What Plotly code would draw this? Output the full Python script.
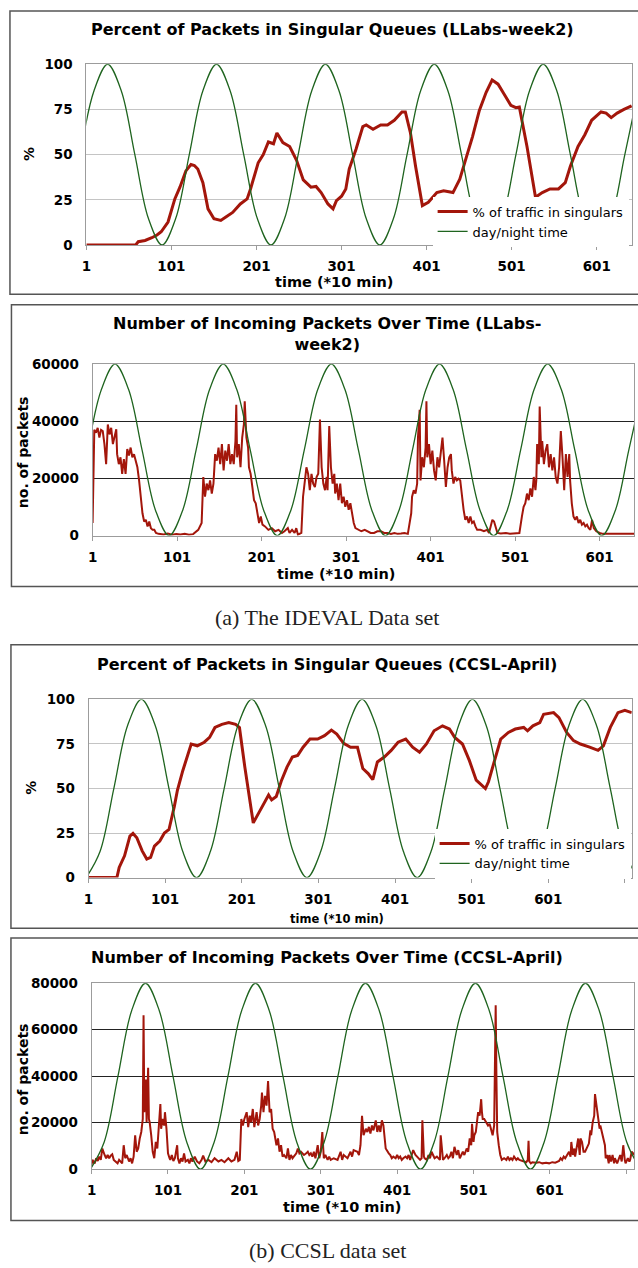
import plotly.graph_objects as go

# ---------------- data ----------------
# Panel 1: percent of packets in singular queues (LLabs-week2)
p1_x = [1, 59, 62, 70, 78, 84, 89, 97, 105, 111,
        118, 124, 128, 132, 138, 144, 151, 159, 165, 173,
        182, 190, 194, 203, 209, 215, 221, 225, 232, 240,
        248, 256, 265, 271, 277, 285, 291, 295, 301, 306,
        310, 318, 326, 330, 338, 347, 355, 363, 372, 376,
        382, 388, 396, 403, 413, 421, 432, 440, 448, 455,
        463, 471, 478, 485, 492, 500, 506, 510, 519, 529,
        537, 546, 556, 564, 570, 579, 587, 595, 606, 612,
        618, 625, 633, 642]
p1_y = [0, 0, 1.8, 2.5, 4, 5.5, 7.3, 12.7, 25.5, 32,
        41, 44.5, 44, 42, 34.5, 20, 14.5, 13.6, 15.5, 18,
        22.7, 25.5, 31, 45.5, 50, 57, 56, 62, 56.7, 54.5,
        47, 36, 32, 32.4, 29, 22.7, 20, 24.5, 27, 31,
        42, 53, 65.5, 66.4, 64, 66.4, 66.4, 69, 73.6, 73.6,
        62, 43.6, 21.8, 23.6, 29, 30, 29, 36.4, 49, 60,
        74.5, 84.5, 91.3, 89, 83.6, 77.3, 76, 76.4, 54.5, 26.4,
        29, 31, 31, 34.5, 43.6, 54.5, 61, 69, 73.6, 73,
        70.5, 73, 75, 77]
dn1_x = [-6, 10, 26, 42, 58, 74, 90, 106, 122, 138,
         154, 170, 186, 202, 218, 234, 250, 266, 282, 298,
         314, 330, 346, 362, 378, 394, 410, 426, 442, 458,
         474, 490, 506, 522, 538, 554, 570, 586, 602, 618,
         634, 650]
dn1_y = [50, 85.4, 100, 85.4, 50, 14.6, 0, 14.6, 50, 85.4,
         100, 85.4, 50, 14.6, 0, 14.6, 50, 85.4, 100, 85.4,
         50, 14.6, 0, 14.6, 50, 85.4, 100, 85.4, 50, 14.6,
         0, 14.6, 50, 85.4, 100, 85.4, 50, 14.6, 0, 14.6,
         50, 85.4]

# Panel 2: number of incoming packets (LLabs-week2)
p2_x = [1, 2, 3, 5, 7, 9, 11, 13, 15, 17,
        19, 21, 23, 25, 27, 29, 30, 32, 34, 36,
        38, 40, 42, 44, 46, 48, 50, 52, 54, 56,
        58, 60, 62, 64, 66, 68, 70, 72, 74, 76,
        79, 85, 90, 95, 100, 105, 110, 115, 120, 126,
        130, 132, 134, 136, 138, 140, 142, 144, 146, 148,
        150, 152, 154, 156, 158, 160, 162, 164, 166, 168,
        170, 171, 172, 174, 176, 178, 180, 181, 183, 185,
        186, 188, 190, 192, 194, 196, 198, 200, 202, 205,
        209, 213, 217, 221, 225, 228, 232, 234, 237, 240,
        242, 244, 248, 250, 252, 254, 256, 258, 260, 262,
        264, 266, 268, 270, 272, 274, 276, 278, 279, 281,
        283, 285, 287, 288, 290, 292, 294, 296, 298, 300,
        302, 304, 306, 308, 310, 312, 315, 319, 323, 327,
        330, 334, 338, 342, 346, 350, 354, 358, 362, 366,
        370, 374, 378, 379, 381, 383, 385, 386, 388, 389,
        391, 393, 395, 396, 397, 399, 401, 403, 405, 407,
        409, 411, 413, 415, 417, 419, 421, 423, 425, 426,
        428, 430, 432, 434, 436, 438, 440, 442, 444, 446,
        448, 450, 452, 454, 456, 460, 464, 468, 470, 472,
        474, 476, 478, 480, 484, 490, 495, 500, 506, 509,
        511, 513, 515, 517, 519, 521, 523, 525, 526, 527,
        529, 530, 532, 533, 535, 537, 539, 541, 543, 545,
        547, 549, 551, 553, 555, 557, 559, 561, 563, 565,
        566, 568, 570, 572, 574, 576, 578, 580, 582, 584,
        586, 588, 590, 592, 594, 597, 601, 605, 609, 613,
        617, 621, 625, 629, 633, 637, 642]
p2_y = [4400, 33000, 37000, 36000, 37700, 34300, 37000, 36600, 32000, 25000,
        38900, 35400, 37700, 32000, 34900, 37200, 28500, 25000, 27400, 21600,
        26800, 21600, 30300, 28000, 30800, 27400, 28500, 26200, 23900, 19300,
        12400, 7800, 4900, 5500, 3200, 4900, 2600, 2000, 2000, 900,
        600, 400, 700, 300, 500, 400, 600, 300, 500, 2000,
        4400, 20500, 13600, 18200, 15900, 19300, 14700, 18200, 28500, 26200,
        30800, 25000, 32000, 22800, 29700, 26200, 32000, 25000, 28500, 25000,
        33100, 45800, 27400, 32000, 23900, 34300, 38900, 47000, 34300, 30800,
        23900, 21600, 17000, 12400, 11300, 7800, 4400, 6700, 3800, 3200,
        2000, 2600, 1500, 2000, 900, 1500, 2600, 900, 2000, 900,
        2600, 300, 900, 13600, 18200, 23900, 21600, 15900, 21600, 18200,
        17000, 20500, 21600, 40600, 23900, 18200, 15900, 20500, 15900, 38300,
        23900, 18200, 21600, 14700, 18200, 12400, 18200, 11300, 13600, 10100,
        12400, 9000, 11300, 7800, 4400, 2600, 2000, 1500, 2000, 1500,
        900, 900, 1500, 1500, 900, 900, 600, 900, 600, 700,
        900, 600, 7800, 13600, 15900, 14700, 18200, 34300, 44000, 19300,
        27400, 23900, 30800, 47000, 27400, 32000, 25000, 29700, 22800, 19300,
        27400, 23900, 28500, 34300, 26200, 17000, 23900, 27400, 28500, 22800,
        18200, 20500, 19300, 19900, 19300, 13600, 9000, 5500, 6700, 4400,
        6700, 4400, 4900, 3200, 2000, 2000, 1500, 2000, 900, 3200,
        5500, 4900, 3200, 900, 700, 900, 600, 700, 900, 6700,
        10100, 11300, 14700, 12400, 16500, 13600, 20500, 15900, 19300, 32000,
        25000, 45200, 27400, 33100, 25000, 29700, 32000, 23900, 28500, 22800,
        27400, 20500, 18200, 23900, 36600, 27400, 15900, 28500, 20500, 28500,
        19300, 11300, 6700, 5500, 6700, 4400, 5500, 3800, 4400, 3200,
        3800, 2600, 2000, 5500, 2600, 1500, 900, 600, 700, 600,
        600, 600, 600, 700, 700, 600, 600]
dn2_x = [-4.5, 11.5, 27.5, 43.5, 59.5, 75.5, 91.5, 107.5, 123.5, 139.5,
         155.5, 171.5, 187.5, 203.5, 219.5, 235.5, 251.5, 267.5, 283.5, 299.5,
         315.5, 331.5, 347.5, 363.5, 379.5, 395.5, 411.5, 427.5, 443.5, 459.5,
         475.5, 491.5, 507.5, 523.5, 539.5, 555.5, 571.5, 587.5, 603.5, 619.5,
         635.5, 651.5]
dn2_y = [30000, 51200, 60000, 51200, 30000, 8800, 0, 8800, 30000, 51200,
         60000, 51200, 30000, 8800, 0, 8800, 30000, 51200, 60000, 51200,
         30000, 8800, 0, 8800, 30000, 51200, 60000, 51200, 30000, 8800,
         0, 8800, 30000, 51200, 60000, 51200, 30000, 8800, 0, 8800,
         30000, 51200]

# Panel 3: percent of packets in singular queues (CCSL-April)
p3_x = [1, 38, 41, 48, 55, 59, 64, 71, 77, 82,
        87, 94, 100, 106, 113, 117, 124, 129, 135, 143,
        152, 159, 166, 175, 184, 193, 198, 205, 212, 216,
        223, 230, 236, 240, 246, 253, 260, 267, 274, 281,
        290, 300, 309, 318, 325, 334, 343, 352, 359, 366,
        372, 378, 387, 396, 405, 415, 424, 433, 442, 452,
        463, 472, 479, 489, 498, 507, 514, 519, 523, 530,
        539, 549, 558, 569, 574, 581, 590, 595, 608, 615,
        625, 634, 643, 655, 666, 673, 682, 692, 701, 710]
p3_y = [0, 0, 5.7, 12.2, 23.3, 24.8, 22.4, 15, 10.4, 11.3,
        17.7, 20.5, 25, 27, 40, 49, 60, 66.7, 75, 74,
        76, 78.7, 84.3, 86, 87, 86, 84.3, 62, 41.8, 30.7,
        36.2, 41.8, 46.4, 43.6, 45.5, 54.7, 62, 67.7, 68.6, 73.2,
        77.8, 77.8, 79.7, 82.8, 80.6, 75.4, 73.2, 73.2, 61.2, 58.4,
        55, 64.9, 67.7, 71.4, 76, 77.8, 73.2, 70.4, 75, 82.4,
        85.2, 83.4, 78.7, 75, 65.8, 54.7, 52, 50, 53.8, 64,
        77.8, 81.5, 83.4, 84.3, 82.4, 85.2, 87, 91.7, 92.6, 89.8,
        81.5, 76.9, 75, 73.2, 71.4, 74, 84.3, 92.6, 93.9, 92.6]
dn3_x = [-2, 16, 34, 52, 70, 88, 106, 124, 142, 160,
         178, 196, 214, 232, 250, 268, 286, 304, 322, 340,
         358, 376, 394, 412, 430, 448, 466, 484, 502, 520,
         538, 556, 574, 592, 610, 628, 646, 664, 682, 700,
         718]
dn3_y = [0, 14.6, 50, 85.4, 100, 85.4, 50, 14.6, 0, 14.6,
         50, 85.4, 100, 85.4, 50, 14.6, 0, 14.6, 50, 85.4,
         100, 85.4, 50, 14.6, 0, 14.6, 50, 85.4, 100, 85.4,
         50, 14.6, 0, 14.6, 50, 85.4, 100, 85.4, 50, 14.6,
         0]

# Panel 4: number of incoming packets (CCSL-April)
p4_x = [1, 2, 5, 7, 9, 11, 13, 15, 18, 20,
        22, 24, 26, 28, 30, 33, 35, 37, 39, 41,
        43, 45, 47, 49, 50, 52, 54, 56, 58, 60,
        62, 64, 66, 68, 69, 70, 72, 73, 75, 76,
        77, 79, 81, 83, 85, 87, 89, 91, 92, 94,
        96, 97, 99, 101, 103, 104, 106, 108, 110, 113,
        114, 116, 118, 120, 122, 124, 127, 129, 131, 133,
        136, 139, 142, 145, 147, 150, 154, 158, 162, 167,
        171, 175, 180, 184, 188, 191, 193, 195, 197, 199,
        201, 204, 206, 208, 210, 212, 214, 217, 219, 221,
        223, 224, 226, 228, 230, 232, 234, 236, 238, 240,
        243, 245, 247, 249, 251, 253, 256, 258, 260, 262,
        264, 266, 269, 271, 273, 275, 277, 279, 282, 284,
        286, 288, 290, 292, 294, 297, 299, 301, 303, 305,
        307, 310, 312, 314, 318, 323, 327, 329, 331, 336,
        340, 342, 344, 349, 351, 353, 355, 357, 360, 362,
        364, 366, 368, 370, 373, 375, 377, 379, 381, 383,
        386, 388, 390, 392, 394, 396, 399, 401, 403, 405,
        407, 409, 412, 414, 416, 418, 420, 422, 425, 427,
        429, 431, 433, 434, 436, 437, 440, 442, 444, 446,
        448, 450, 453, 455, 457, 458, 460, 461, 463, 466,
        468, 470, 472, 474, 476, 479, 481, 483, 485, 487,
        489, 492, 494, 496, 498, 499, 501, 502, 504, 505,
        507, 509, 511, 512, 513, 515, 518, 520, 522, 524,
        526, 528, 530, 531, 532, 534, 536, 538, 541, 544,
        546, 548, 550, 552, 554, 557, 559, 561, 565, 567,
        570, 572, 573, 574, 576, 578, 583, 587, 591, 596,
        600, 604, 608, 613, 615, 617, 619, 621, 624, 626,
        628, 629, 631, 633, 634, 637, 638, 640, 641, 643,
        645, 647, 650, 652, 654, 655, 657, 659, 660, 662,
        664, 666, 667, 669, 671, 673, 674, 676, 678, 679,
        681, 683, 685, 686, 689, 691, 693, 695, 697, 699,
        700, 703, 705, 706, 708, 710, 712]
p4_y = [2000, 4000, 2500, 4700, 3500, 5400, 4000, 8900, 6100, 4700,
        6100, 4700, 5800, 6400, 4000, 3300, 2500, 4000, 3300, 2500,
        10300, 4700, 6100, 4000, 3300, 4700, 2500, 5400, 14600, 7500,
        8900, 13200, 16000, 21600, 66200, 24500, 38600, 20200, 43600, 21600,
        20200, 14600, 7500, 4700, 11700, 8900, 18800, 28000, 17400, 21600,
        18800, 24500, 17400, 6800, 4700, 4000, 6100, 3500, 4700, 10300,
        4700, 2500, 4700, 3300, 6800, 3300, 4000, 2500, 4700, 3300,
        5400, 3300, 2500, 4000, 5800, 3300, 4000, 3000, 4700, 3300,
        4000, 3000, 4700, 3300, 4000, 7500, 3500, 4000, 21600, 18800,
        21600, 24500, 18100, 23000, 20200, 25900, 18100, 24500, 18800, 21600,
        27300, 33000, 24500, 31500, 27300, 37900, 24500, 25900, 17400, 16000,
        10300, 13200, 7500, 10300, 5400, 6100, 4700, 8900, 4000, 6100,
        4700, 5400, 6800, 8900, 6800, 7500, 6800, 6100, 6800, 7500,
        6100, 6800, 5400, 7500, 4700, 10300, 4700, 7500, 16000, 4700,
        6100, 4000, 5400, 4000, 4700, 4000, 7500, 4000, 6100, 4700,
        7500, 5400, 8200, 7500, 6100, 10300, 23000, 14600, 17400, 16000,
        18200, 15300, 18800, 16700, 21000, 16000, 18800, 16000, 21000, 18800,
        8900, 7500, 6800, 6100, 4700, 5400, 4700, 6100, 4700, 5400,
        4000, 4700, 5400, 4700, 6100, 4000, 6800, 8200, 6100, 5400,
        4700, 4000, 4700, 21000, 5400, 4700, 4000, 6100, 4700, 7500,
        6100, 4700, 5400, 4700, 4000, 14600, 4700, 4000, 4700, 6100,
        4700, 5400, 7500, 4700, 9600, 6100, 8200, 4700, 6100, 7500,
        6100, 8900, 7500, 13200, 10300, 19500, 11700, 14600, 16000, 20200,
        24500, 23000, 30100, 24500, 21600, 21600, 20200, 18800, 19500, 17400,
        14600, 18800, 70500, 38600, 16000, 10300, 6100, 4000, 4700, 4000,
        5400, 4000, 4700, 4000, 5400, 4000, 4700, 4000, 3500, 3300,
        3000, 4000, 12200, 3300, 2500, 3000, 2800, 3000, 2500, 2800,
        2500, 3000, 2800, 3500, 4700, 4000, 5400, 4700, 6100, 7500,
        5400, 11700, 6100, 8900, 5400, 10300, 13200, 6100, 13200, 11700,
        7500, 7500, 9600, 11000, 16700, 14600, 20200, 23000, 32300, 26600,
        23000, 17400, 18800, 16000, 13900, 10300, 4700, 6100, 2500, 6100,
        3300, 6100, 2500, 4700, 2500, 4000, 6100, 3300, 10300, 4000,
        2500, 4700, 3300, 4000, 7500, 6800, 6000]
dn4_x = [-0.5, 17.5, 35.5, 53.5, 71.5, 89.5, 107.5, 125.5, 143.5, 161.5,
         179.5, 197.5, 215.5, 233.5, 251.5, 269.5, 287.5, 305.5, 323.5, 341.5,
         359.5, 377.5, 395.5, 413.5, 431.5, 449.5, 467.5, 485.5, 503.5, 521.5,
         539.5, 557.5, 575.5, 593.5, 611.5, 629.5, 647.5, 665.5, 683.5, 701.5,
         719.5]
dn4_y = [0, 11700, 40000, 68300, 80000, 68300, 40000, 11700, 0, 11700,
         40000, 68300, 80000, 68300, 40000, 11700, 0, 11700, 40000, 68300,
         80000, 68300, 40000, 11700, 0, 11700, 40000, 68300, 80000, 68300,
         40000, 11700, 0, 11700, 40000, 68300, 80000, 68300, 40000, 11700,
         0]

ticks_a = [1, 101, 201, 301, 401, 501, 601]
ticks_b = [1, 101, 201, 301, 401, 501, 601, 701]
pct_ticks = [0, 25, 50, 75, 100]
pk2_ticks = [0, 20000, 40000, 60000]
pk4_ticks = [0, 20000, 40000, 60000, 80000]

titles = ["Percent of Packets in Singular Queues (LLabs-week2)",
          "Number of Incoming Packets Over Time (LLabs-<br>week2)",
          "Percent of Packets in Singular Queues (CCSL-April)",
          "Number of Incoming Packets Over Time (CCSL-April)"]
xtitle = "time (*10 min)"
names = ["% of traffic in singulars", "day/night time"]
captions = ["(a) The IDEVAL Data set", "(b) CCSL data set"]

# ---------------- style ----------------
W, H = 638, 1268
RED = '#a3160b'
GREEN = '#1f641f'
FONT = 'DejaVu Sans'
AXC = '#9c9c9c'


def fx(p):
    return p / W


def fy(p):
    return 1 - p / H


fig = go.Figure()

panels = [
    (p1_x, p1_y, dn1_x, dn1_y, 'x', 'y', 'legend', 3.0),
    (p2_x, p2_y, dn2_x, dn2_y, 'x2', 'y2', None, 2.0),
    (p3_x, p3_y, dn3_x, dn3_y, 'x3', 'y3', 'legend2', 3.0),
    (p4_x, p4_y, dn4_x, dn4_y, 'x4', 'y4', None, 2.0),
]
for (rx, ry, gx, gy, xa, ya, leg, lw) in panels:
    kw = dict(legend=leg) if leg else {}
    fig.add_trace(go.Scatter(x=rx, y=ry, mode='lines', name=names[0],
                             line=dict(color=RED, width=lw),
                             xaxis=xa, yaxis=ya, showlegend=bool(leg), **kw))
    fig.add_trace(go.Scatter(x=gx, y=gy, mode='lines', name=names[1],
                             line=dict(color=GREEN, width=1.3, shape='spline'),
                             xaxis=xa, yaxis=ya, showlegend=bool(leg), **kw))


def xaxis(dom, rng, anchor, tv):
    return dict(domain=[fx(dom[0]), fx(dom[1])], range=rng, anchor=anchor,
                tickmode='array', tickvals=tv, ticktext=[str(v) for v in tv],
                showline=True, linecolor=AXC, linewidth=1, mirror=True,
                ticks='outside', ticklen=4, tickcolor=AXC,
                showgrid=False, zeroline=False, ticklabelstandoff=5,
                tickfont=dict(family=FONT, size=13.5, color='black', weight='bold'))


def yaxis(dom, rng, anchor, tv, gridc):
    return dict(domain=[fy(dom[1]), fy(dom[0])], range=rng, anchor=anchor,
                tickmode='array', tickvals=tv, ticktext=[str(v) for v in tv],
                showline=True, linecolor=AXC, linewidth=1, mirror=True,
                ticks='', showgrid=True, gridcolor=gridc, gridwidth=1,
                zeroline=False, ticklabelstandoff=10,
                tickfont=dict(family=FONT, size=13.5, color='black', weight='bold'))


layout = dict(
    width=W, height=H, margin=dict(l=0, r=0, t=0, b=0),
    paper_bgcolor='white', plot_bgcolor='white', hovermode=False,
    xaxis=xaxis((82, 632), [1, 642.5], 'y', ticks_a),
    yaxis=yaxis((57, 240), [0, 100], 'x', pct_ticks, '#c4c4c4'),
    xaxis2=xaxis((88.3, 634.3), [1, 642], 'y2', ticks_a),
    yaxis2=yaxis((360.7, 534.3), [0, 60000], 'x2', pk2_ticks, '#222222'),
    xaxis3=xaxis((84.2, 631.7), [1, 710], 'y3', ticks_b),
    yaxis3=yaxis((700.3, 880.7), [0, 100], 'x3', pct_ticks, '#c4c4c4'),
    xaxis4=xaxis((87.3, 634.3), [1, 711.5], 'y4', ticks_b),
    yaxis4=yaxis((987.7, 1176), [0, 80000], 'x4', pk4_ticks, '#222222'),
    legend=dict(x=fx(431), y=fy(191), xanchor='left', yanchor='top',
                bgcolor='white', borderwidth=0, itemwidth=30, tracegroupgap=0,
                font=dict(family=FONT, size=13, color='black')),
    legend2=dict(x=fx(433), y=fy(831), xanchor='left', yanchor='top',
                 bgcolor='white', borderwidth=0, itemwidth=30, tracegroupgap=0,
                 font=dict(family=FONT, size=13, color='black')),
)
fig.update_layout(**layout)

# panel frames
for (x0, y0, x1, y1) in [(5, 3, 640, 290), (6.5, 300.5, 640, 586),
                         (6, 645, 640, 932), (6, 942, 640, 1228)]:
    fig.add_shape(type='rect', xref='paper', yref='paper',
                  x0=fx(x0), x1=fx(x1), y0=fy(y1), y1=fy(y0),
                  line=dict(color='#555555', width=1.5), layer='below')

bold = lambda s: dict(family=FONT, size=s, color='black', weight='bold')
ann = []
# chart titles
for (t, cx, cy) in [(titles[0], 330, 22), (titles[1], 325, 330),
                    (titles[2], 325, 665), (titles[3], 325, 962)]:
    ann.append(dict(text=t, x=fx(cx), y=fy(cy), xref='paper', yref='paper',
                    xanchor='center', yanchor='middle', showarrow=False,
                    font=bold(16)))
# x axis titles
for (cx, cy, s) in [(332, 277, 14.5), (334, 573, 14.5), (335, 923, 11.5), (340, 1214, 14.5)]:
    ann.append(dict(text=xtitle, x=fx(cx), y=fy(cy), xref='paper', yref='paper',
                    xanchor='center', yanchor='middle', showarrow=False,
                    font=bold(s)))
# y axis titles
for (t, cx, cy) in [("%", 24, 148), ("no. of packets", 18, 450),
                    ("%", 26, 790), ("no. of packets", 18, 1085)]:
    ann.append(dict(text=t, x=fx(cx), y=fy(cy), xref='paper', yref='paper',
                    xanchor='center', yanchor='middle', showarrow=False,
                    textangle=-90, font=bold(14)))
# captions
for (t, cy) in [(captions[0], 617), (captions[1], 1258)]:
    ann.append(dict(text=t, x=fx(325), y=fy(cy), xref='paper', yref='paper',
                    xanchor='center', yanchor='middle', showarrow=False,
                    font=dict(family='Liberation Serif', size=22, color='#222222')))
fig.update_layout(annotations=ann)

fig.write_html("out.html", config={'displayModeBar': False})
